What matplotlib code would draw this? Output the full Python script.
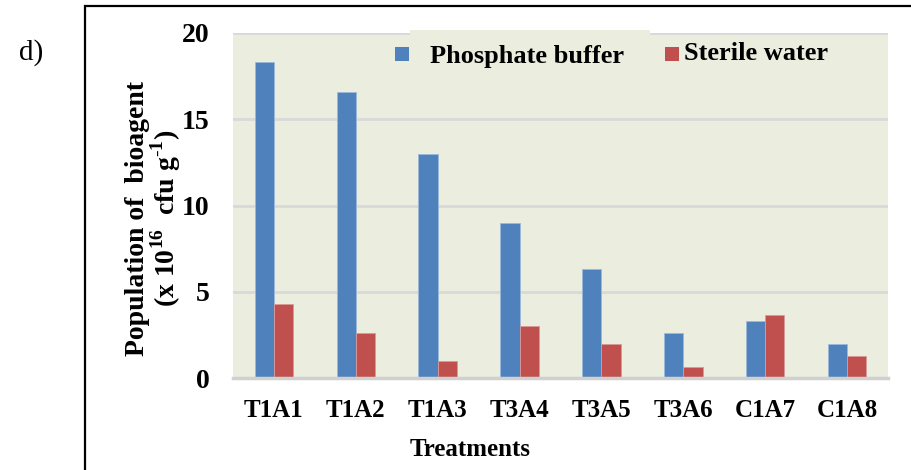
import numpy as np
import matplotlib
matplotlib.use("Agg")
import matplotlib.pyplot as plt
from matplotlib.patches import Rectangle

# population of bioagent per treatment (x 10^16 cfu/g)
treatments = ["T1A1", "T1A2", "T1A3", "T3A4", "T3A5", "T3A6", "C1A7", "C1A8"]
phosphate_buffer = [18.3, 16.6, 13.0, 9.0, 6.3, 2.6, 3.3, 2.0]
sterile_water = [4.3, 2.6, 1.0, 3.0, 2.0, 0.65, 3.65, 1.3]
yticks = [0, 5, 10, 15, 20]

blue = "#4F81BD"
red = "#C0504D"
bg = "#EBEEDF"
grid = "#D9D9D9"

plt.rcParams["font.family"] = ["Liberation Serif", "DejaVu Serif"]
plt.rcParams["mathtext.fontset"] = "custom"
plt.rcParams["mathtext.rm"] = "Liberation Serif"
plt.rcParams["mathtext.bf"] = "Liberation Serif:bold"

W, H = 912, 470
fig = plt.figure(figsize=(W / 100, H / 100), dpi=100)

def fx(px):
    return px / W

def fy(py):
    return 1 - py / H

# outer frame around the panel
fig.patches.append(Rectangle((fx(85), -0.2), 1.2, fy(6) + 0.2, transform=fig.transFigure,
                             fill=False, edgecolor="black", linewidth=1.6, zorder=0))

ax = fig.add_axes([fx(233), fy(378), fx(888) - fx(233), fy(33) - fy(378)])
ax.set_facecolor(bg)

x = np.arange(len(treatments))
w = 0.235
ax.bar(x - w / 2, phosphate_buffer, w, color=blue, edgecolor="#9DB9DC", linewidth=0.6, zorder=3)
ax.bar(x + w / 2, sterile_water, w, color=red, edgecolor="#D99A98", linewidth=0.6, zorder=3)

ax.set_xlim(-0.5, len(treatments) - 0.5)
ax.set_ylim(0, 20)
ax.set_yticks(yticks)
ax.yaxis.grid(True, color=grid, linewidth=2.0, zorder=0)
ax.set_axisbelow(True)
for side in ["top", "right", "left"]:
    ax.spines[side].set_visible(False)
ax.spines["bottom"].set_color("#D0D0D0")
ax.spines["bottom"].set_linewidth(2.5)
ax.spines["bottom"].set_zorder(4)

ax.set_xticks(x)
ax.set_xticklabels(treatments, fontsize=18, fontweight="bold")
ax.set_yticklabels([str(t) for t in yticks], fontsize=20, fontweight="bold")
ax.tick_params(axis="x", length=0, pad=15)
ax.tick_params(axis="y", length=0, pad=17)

# legend area
fig.patches.append(Rectangle((fx(410), fy(80)), fx(650) - fx(410), fy(30) - fy(80),
                             transform=fig.transFigure, facecolor=bg, edgecolor="none", zorder=1))
fig.patches.append(Rectangle((fx(395), fy(61)), fx(14), fy(47) - fy(61),
                             transform=fig.transFigure, facecolor=blue, edgecolor="none", zorder=2))
fig.patches.append(Rectangle((fx(665), fy(61)), fx(14), fy(47) - fy(61),
                             transform=fig.transFigure, facecolor=red, edgecolor="none", zorder=2))
fig.text(fx(430), fy(56), "Phosphate buffer", fontsize=19, fontweight="bold", va="center", ha="left")
fig.text(fx(684), fy(54), "Sterile water", fontsize=19, fontweight="bold", va="center", ha="left")

# axis titles
fig.text(fx(154), fy(218), "Population of  bioagent\n(x 10$^{\\mathbf{16}}$  cfu g$^{\\mathbf{\\text{-}1}}$)",
         rotation=90, fontsize=20, fontweight="bold", ha="center", va="center",
         multialignment="center", linespacing=0.95)
fig.text(fx(470), fy(449), "Treatments", fontsize=18, fontweight="bold", ha="center", va="center")

fig.text(fx(31), fy(53), "d)", fontsize=21, ha="center", va="center")

fig.savefig("out.png", dpi=100)
